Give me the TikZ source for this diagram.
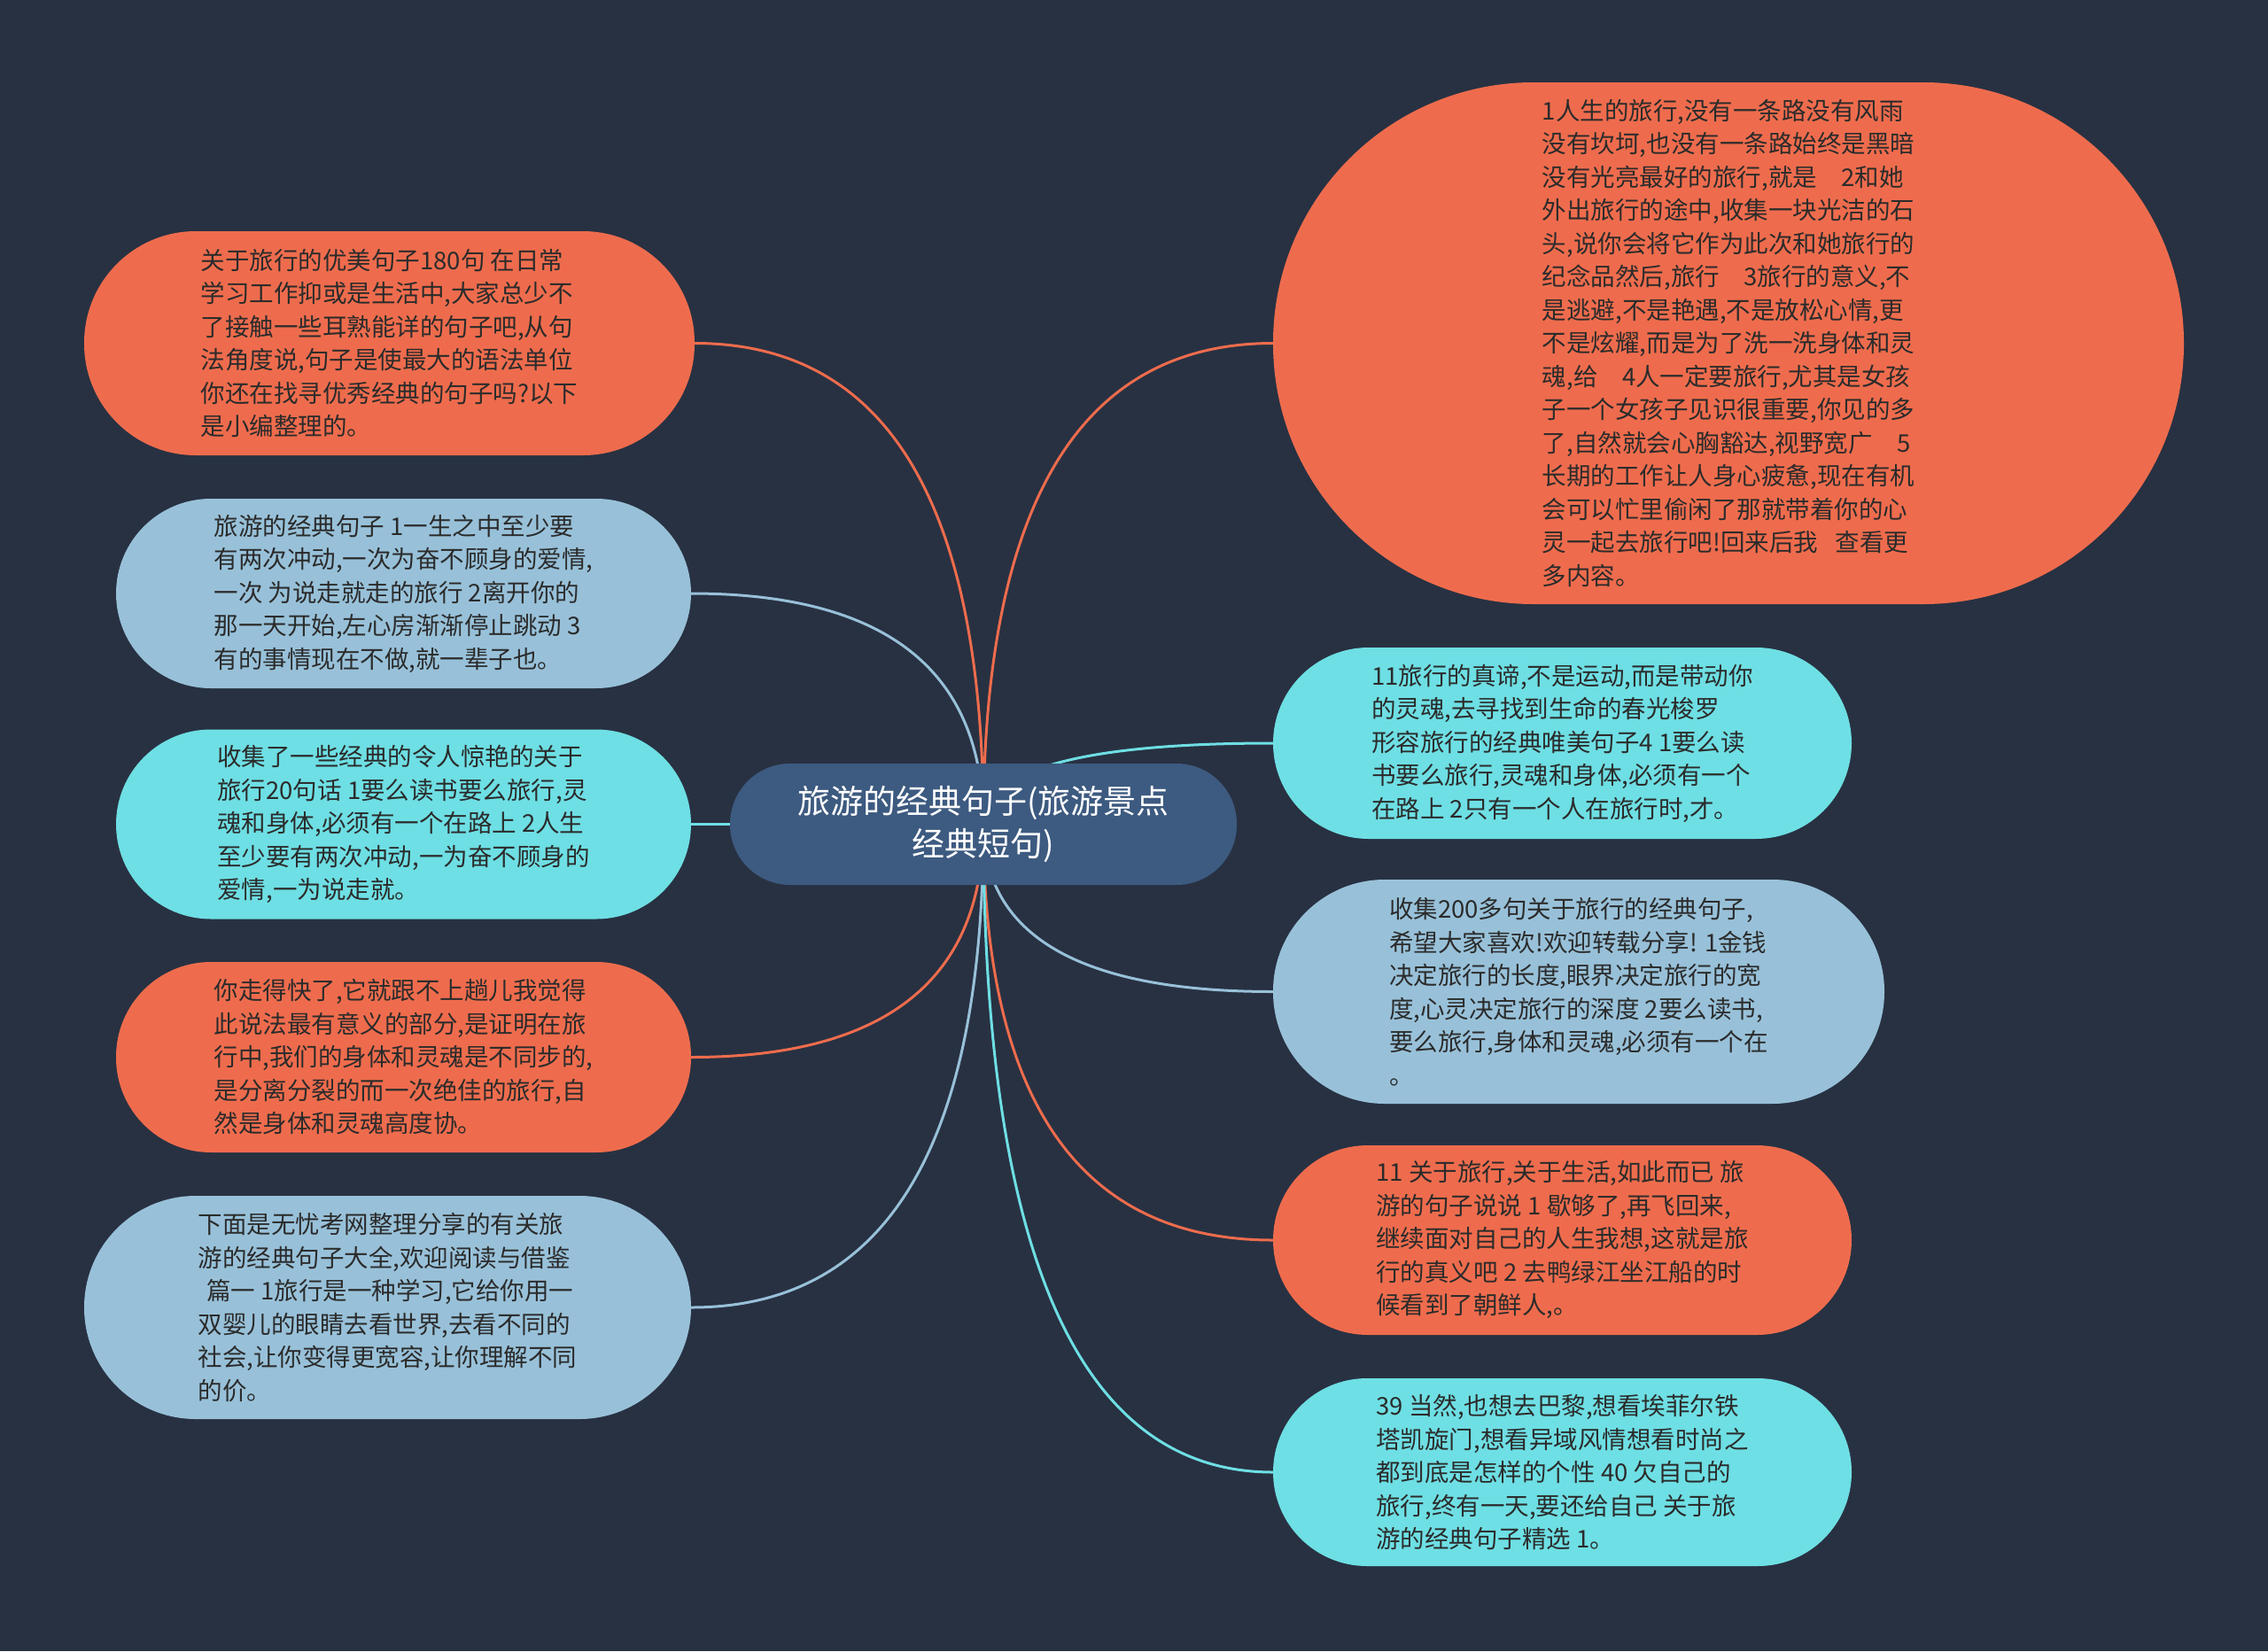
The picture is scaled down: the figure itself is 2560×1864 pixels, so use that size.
\documentclass[tikz,border=0pt]{standalone}
\usepackage{fontspec}
\setmainfont{Noto Sans CJK SC}
\usetikzlibrary{calc,backgrounds}
\definecolor{bg}{HTML}{283142}
\definecolor{orng}{HTML}{EE6C4D}
\definecolor{lblue}{HTML}{98C1D9}
\definecolor{cyanc}{HTML}{6EDFE4}
\definecolor{cnode}{HTML}{3D5A80}
\definecolor{txt}{HTML}{2B2B2B}
\tikzset{
  leaf/.style={rectangle, inner sep=0pt, align=left, text=txt,
    font=\fontsize{27.5pt}{37.5pt}\selectfont},
  root/.style={rectangle, inner sep=0pt, align=center, text=white, fill=cnode,
    font=\fontsize{37pt}{48pt}\selectfont},
  branch/.style={line width=3pt},
}
\newcommand\branchto[2]{\draw[branch,#1] (c.center) .. controls ($(c.center)!2/3!(c.center |- #2)$) and ($(#2)!2/3!(c.center |- #2)$) .. (#2);}
\begin{document}
\begin{tikzpicture}[x=1pt,y=-1pt]
\node[root, minimum width=572pt, minimum height=137pt, rounded corners=68pt] (c) at (1110,930.5)
 {旅游的经典句子(旅游景点\\经典短句)};

\node[leaf, fill=orng, minimum width=689pt, minimum height=253pt, rounded corners=126pt] (l1) at (439.5,387.5)
 {关于旅行的优美句子180句 在日常\\学习工作抑或是生活中,大家总少不\\了接触一些耳熟能详的句子吧,从句\\法角度说,句子是使最大的语法单位\\你还在找寻优秀经典的句子吗?以下\\是小编整理的。};
\node[leaf, fill=lblue, minimum width=649pt, minimum height=214pt, rounded corners=107pt] (l2) at (455.5,670)
 {旅游的经典句子 1一生之中至少要\\有两次冲动,一次为奋不顾身的爱情,\\一次 为说走就走的旅行 2离开你的\\那一天开始,左心房渐渐停止跳动 3\\有的事情现在不做,就一辈子也。};
\node[leaf, fill=cyanc, minimum width=649pt, minimum height=214pt, rounded corners=107pt] (l3) at (455.5,930.5)
 {收集了一些经典的令人惊艳的关于\\旅行20句话 1要么读书要么旅行,灵\\魂和身体,必须有一个在路上 2人生\\至少要有两次冲动,一为奋不顾身的\\爱情,一为说走就。};
\node[leaf, fill=orng, minimum width=649pt, minimum height=215pt, rounded corners=107pt] (l4) at (455.5,1193.5)
 {你走得快了,它就跟不上趟儿我觉得\\此说法最有意义的部分,是证明在旅\\行中,我们的身体和灵魂是不同步的,\\是分离分裂的而一次绝佳的旅行,自\\然是身体和灵魂高度协。};
\node[leaf, fill=lblue, minimum width=685pt, minimum height=252pt, rounded corners=126pt] (l5) at (437.5,1476)
 {下面是无忧考网整理分享的有关旅\\游的经典句子大全,欢迎阅读与借鉴\\\hspace*{.35em}篇一 1旅行是一种学习,它给你用一\\双婴儿的眼睛去看世界,去看不同的\\社会,让你变得更宽容,让你理解不同\\的价。};

\node[leaf, fill=orng, minimum width=1028pt, minimum height=589pt, rounded corners=294pt] (r1) at (1951,387.5)
 {1人生的旅行,没有一条路没有风雨\\没有坎坷,也没有一条路始终是黑暗\\没有光亮最好的旅行,就是\hspace{1em}2和她\\外出旅行的途中,收集一块光洁的石\\头,说你会将它作为此次和她旅行的\\纪念品然后,旅行\hspace{1em}3旅行的意义,不\\是逃避,不是艳遇,不是放松心情,更\\不是炫耀,而是为了洗一洗身体和灵\\魂,给\hspace{1em}4人一定要旅行,尤其是女孩\\子一个女孩子见识很重要,你见的多\\了,自然就会心胸豁达,视野宽广\hspace{1em}5\\长期的工作让人身心疲惫,现在有机\\会可以忙里偷闲了那就带着你的心\\灵一起去旅行吧!回来后我\hspace{.7em}查看更\\多内容。};
\node[leaf, fill=cyanc, minimum width=653pt, minimum height=216pt, rounded corners=108pt] (r2) at (1763.5,839)
 {11旅行的真谛,不是运动,而是带动你\\的灵魂,去寻找到生命的春光梭罗\\形容旅行的经典唯美句子4 1要么读\\书要么旅行,灵魂和身体,必须有一个\\在路上 2只有一个人在旅行时,才。};
\node[leaf, fill=lblue, minimum width=690pt, minimum height=253pt, rounded corners=126pt] (r3) at (1782,1119.5)
 {收集200多句关于旅行的经典句子,\\希望大家喜欢!欢迎转载分享! 1金钱\\决定旅行的长度,眼界决定旅行的宽\\度,心灵决定旅行的深度 2要么读书,\\要么旅行,身体和灵魂,必须有一个在\\。};
\node[leaf, fill=orng, minimum width=653pt, minimum height=214pt, rounded corners=107pt] (r4) at (1763.5,1400)
 {11 关于旅行,关于生活,如此而已 旅\\游的句子说说 1 歇够了,再飞回来,\\继续面对自己的人生我想,这就是旅\\行的真义吧 2 去鸭绿江坐江船的时\\候看到了朝鲜人,。};
\node[leaf, fill=cyanc, minimum width=653pt, minimum height=212pt, rounded corners=106pt] (r5) at (1763.5,1662)
 {39 当然,也想去巴黎,想看埃菲尔铁\\塔凯旋门,想看异域风情想看时尚之\\都到底是怎样的个性 40 欠自己的\\旅行,终有一天,要还给自己 关于旅\\游的经典句子精选 1。};

\begin{pgfonlayer}{background}
\fill[bg] (0,0) rectangle (2560,1864);
\branchto{orng}{l1.east}
\branchto{lblue}{l2.east}
\branchto{cyanc}{l3.east}
\branchto{orng}{l4.east}
\branchto{lblue}{l5.east}
\branchto{orng}{r1.west}
\branchto{cyanc}{r2.west}
\branchto{lblue}{r3.west}
\branchto{orng}{r4.west}
\branchto{cyanc}{r5.west}
\end{pgfonlayer}
\end{tikzpicture}
\end{document}
